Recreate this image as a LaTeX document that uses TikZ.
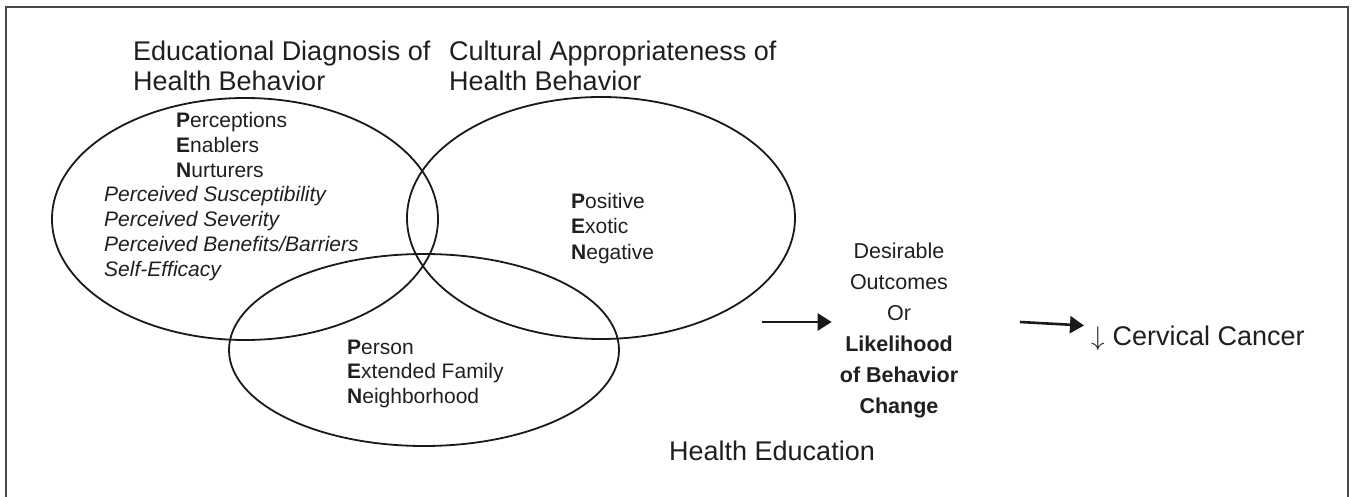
\documentclass[tikz,border=0pt]{standalone}
\usepackage{fontspec}
\usepackage{graphicx}
\setmainfont{Liberation Sans}
\usetikzlibrary{arrows.meta,shapes.geometric}
\newcommand{\downmark}{\raisebox{-1pt}{\scalebox{2.7}{\fontsize{10}{12}\selectfont$\downarrow$}}}
\begin{document}
\begin{tikzpicture}[x=1pt,y=-1pt,
  frameline/.style={draw=black!72, line width=1.6pt},
  venn/.style={ellipse, draw=black!90, line width=1.8pt, inner sep=0pt},
  heading/.style={anchor=base west, align=left, inner sep=0pt, text=black!88,
    font=\fontsize{27}{29.5}\selectfont},
  body/.style={anchor=base west, align=left, inner sep=0pt, text=black!88,
    font=\fontsize{21}{24.8}\selectfont},
  outcome/.style={anchor=base, align=center, inner sep=0pt, text=black!88,
    font=\fontsize{21.5}{31}\selectfont},
  big/.style={anchor=base west, inner sep=0pt, text=black!88,
    font=\fontsize{27}{30}\selectfont},
  arr/.style={draw=black!90, line width=2.6pt, -{Triangle[length=14pt,width=17pt]}},
]
\useasboundingbox (0,0) rectangle (1353,497);

% open frame (no bottom edge)
\draw[frameline] (6,497) -- (6,7) -- (1348,7) -- (1348,497);

% the three overlapping ellipses
\node[venn, minimum width=386pt, minimum height=242pt] (edu) at (245,219) {};
\node[venn, minimum width=388pt, minimum height=242pt] (cult) at (601,218) {};
\node[venn, minimum width=390pt, minimum height=192pt] (pen) at (424,350) {};

% headings above the ellipses (anchored on the baseline of their last line)
\node[heading] (t1) at (133,90.5) {Educational Diagnosis of\\Health Behavior};
\node[heading] (t2) at (449,90.5) {Cultural Appropriateness of\\Health Behavior};

% contents of the ellipses
\node[body] (pen1) at (176,177.6) {\textbf{P}erceptions\\\textbf{E}nablers\\\textbf{N}urturers};
\node[body, font=\fontsize{21}{24.8}\selectfont\itshape] (hbm) at (104,276.1)
  {Perceived Susceptibility\\Perceived Severity\\Perceived Benefits/Barriers\\Self-Efficacy};
\node[body, font=\fontsize{21}{25.5}\selectfont] (pen2) at (571,259.3)
  {\textbf{P}ositive\\\textbf{E}xotic\\\textbf{N}egative};
\node[body] (pen3) at (347,403.6)
  {\textbf{P}erson\\\textbf{E}xtended Family\\\textbf{N}eighborhood};

% outcome and result
\node[outcome] (out) at (899,413)
  {Desirable\\Outcomes\\Or\\\textbf{Likelihood}\\\textbf{of Behavior}\\\textbf{Change}};
\node[big] (cancer) at (1091,345) {\downmark\hspace{8pt}Cervical Cancer};
\node[big] (hed) at (669,460) {Health Education};

% arrows
\coordinate (a1s) at (762,322);
\coordinate (a2s) at (1020,322);
\draw[arr] (a1s) -- ([xshift=-8pt]out.west |- a1s);
\draw[arr] (a2s) -- ([xshift=-7pt]cancer.west |- 0,325.5);
\end{tikzpicture}
\end{document}
